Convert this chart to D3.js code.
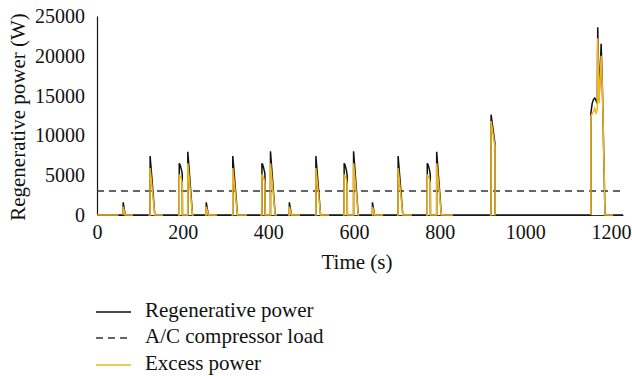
<!DOCTYPE html>
<html>
<head>
<meta charset="utf-8">
<script src="https://cdn.jsdelivr.net/npm/d3@7"></script>
<style>
  body { margin: 0; background: #fff; }
</style>
</head>
<body>
<div id="chart"></div>
<script>
// Regenerative power (W) over time (s)
const regenPower = [
    [0, 0],
    [61, 0], [61, 1600], [66, 0],
    [124, 0], [124, 7400], [135, 0],
    [192, 0], [192, 6500], [194, 6300], [197, 5700], [199, 5200], [199.5, 0],
    [212, 0], [212, 7950], [223, 0],
    [255, 0], [255, 1600], [260, 0],
    [317, 0], [317, 7400], [328, 0],
    [385, 0], [385, 6500], [387, 6300], [390, 5700], [392, 5200], [392.5, 0],
    [405, 0], [405, 8000], [416, 0],
    [449, 0], [449, 1600], [454, 0],
    [511, 0], [511, 7400], [522, 0],
    [577, 0], [577, 6500], [579, 6300], [582, 5700], [584, 5000], [584.5, 0],
    [599, 0], [599, 8000], [610, 0],
    [643, 0], [643, 1600], [648, 0],
    [703, 0], [703, 7400], [714, 0],
    [771, 0], [771, 6500], [773, 6300], [776, 5700], [778, 5100], [778.5, 0],
    [793, 0], [793, 7950], [804, 0],
    [920, 0], [920, 12600], [929, 9000], [929.5, 0],
    [1153, 0], [1153, 12800], [1156, 14000], [1159, 14500], [1162, 14700], [1165, 14400], [1168, 14000],
    [1169, 23600], [1172, 14500], [1177, 21500], [1180, 15700], [1186, 0],
    [1228, 0]
];

// Excess power (W); null marks a gap in the series
const excessPower = [
    [0, 0], [50, 0], [50, null],
    [61, 0], [61, 1050], [66, 0], [84, 0], [84, null],
    [120, 0], [124, 0], [124, 5900], [135, 0], [154, 0], [154, null],
    [189, 0], [192, 0], [192, 5000], [194, 4900], [197, 4500], [199, 4000], [199.5, 0],
    [212, 0], [212, 6500], [223, 0], [226, 0], [226, null],
    [252, 0], [255, 0], [255, 1050], [260, 0], [280, 0], [280, null],
    [314, 0], [317, 0], [317, 5900], [328, 0], [350, 0], [350, null],
    [381, 0], [385, 0], [385, 5000], [387, 4900], [390, 4500], [392, 4000], [392.5, 0],
    [405, 0], [405, 6500], [416, 0], [420, 0], [420, null],
    [446, 0], [449, 0], [449, 1050], [454, 0], [474, 0], [474, null],
    [508, 0], [511, 0], [511, 5900], [522, 0], [542, 0], [542, null],
    [574, 0], [577, 0], [577, 5000], [579, 4900], [582, 4500], [584, 3900], [584.5, 0],
    [599, 0], [599, 6500], [610, 0], [612, 0], [612, null],
    [642, 0], [643, 0], [643, 1050], [648, 0], [668, 0], [668, null],
    [700, 0], [703, 0], [703, 5900], [714, 0], [735, 0], [735, null],
    [768, 0], [771, 0], [771, 5000], [773, 4900], [776, 4500], [778, 4000], [778.5, 0],
    [793, 0], [793, 6500], [804, 0], [831, 0], [831, null],
    [917, 0], [920, 0], [920, 11800], [929, 8600], [929.5, 0], [930, 0], [930, null],
    [1153, 0], [1153, 12400], [1159, 13000], [1162, 13400], [1165, 12800], [1168, 13200],
    [1169, 22200], [1172, 14000], [1177, 20000], [1180, 15700], [1186, 0], [1205, 0]
];

const compressorLoad = 3000;
const xTicks = [0, 200, 400, 600, 800, 1000, 1200];
const yTicks = [0, 5000, 10000, 15000, 20000, 25000];
const legendLabels = ["Regenerative power", "A/C compressor load", "Excess power"];

const width = 632, height = 376;
const orange = "#f3b51c";
const serif = "Liberation Serif, serif";

const svg = d3.select("#chart").append("svg")
    .attr("width", width)
    .attr("height", height);

const xScale = d3.scaleLinear().domain([0, 1228]).range([97, 623]);
const yScale = d3.scaleLinear().domain([0, 25000]).range([215, 16]);

// Axes (no tick marks, just labels)
const xAxis = d3.axisBottom(xScale).tickValues(xTicks).tickFormat(d3.format("d"))
    .tickSize(0).tickPadding(10);
const yAxis = d3.axisLeft(yScale).tickValues(yTicks).tickFormat(d3.format("d"))
    .tickSize(0).tickPadding(12);

const xAxisG = svg.append("g")
    .attr("transform", `translate(0, ${yScale(0)})`)
    .call(xAxis);
xAxisG.select(".domain").attr("stroke", "#333").attr("stroke-width", 1.2);
xAxisG.selectAll("text")
    .style("font-family", serif)
    .style("font-size", "20px")
    .style("fill", "#111");

const yAxisG = svg.append("g")
    .attr("transform", `translate(${xScale(0)}, 0)`)
    .call(yAxis);
yAxisG.select(".domain").attr("stroke", "#111").attr("stroke-width", 1.2);
yAxisG.selectAll("text")
    .style("font-family", serif)
    .style("font-size", "20px")
    .style("fill", "#111");

// Axis titles
svg.append("text")
    .attr("x", 357)
    .attr("y", 269)
    .attr("text-anchor", "middle")
    .style("font-family", serif)
    .style("font-size", "21px")
    .style("fill", "#111")
    .text("Time (s)");

svg.append("text")
    .attr("transform", `translate(25, 117) rotate(-90)`)
    .attr("text-anchor", "middle")
    .style("font-family", serif)
    .style("font-size", "21px")
    .style("fill", "#111")
    .text("Regenerative power (W)");

// A/C compressor load (dashed)
svg.append("line")
    .attr("x1", xScale(0))
    .attr("x2", xScale(1228))
    .attr("y1", yScale(compressorLoad))
    .attr("y2", yScale(compressorLoad))
    .attr("stroke", "#333")
    .attr("stroke-width", 1.5)
    .attr("stroke-dasharray", "7,5");

const line = d3.line()
    .defined(d => d[1] !== null)
    .x(d => xScale(d[0]))
    .y(d => yScale(d[1]));

svg.append("path")
    .datum(regenPower)
    .attr("fill", "none")
    .attr("stroke", "#111")
    .attr("stroke-width", 1.5)
    .attr("d", line);

svg.append("path")
    .datum(excessPower)
    .attr("fill", "none")
    .attr("stroke", orange)
    .attr("stroke-width", 1.5)
    .attr("d", line);

// Legend
const legendStyles = [
    {stroke: "#111", dash: null},
    {stroke: "#333", dash: "7,5"},
    {stroke: orange, dash: null}
];
const legendY = [312, 338, 365];

const legend = svg.append("g");
legendLabels.forEach((label, i) => {
    legend.append("line")
        .attr("x1", 96).attr("x2", 131)
        .attr("y1", legendY[i]).attr("y2", legendY[i])
        .attr("stroke", legendStyles[i].stroke)
        .attr("stroke-width", 1.5)
        .attr("stroke-dasharray", legendStyles[i].dash);
    legend.append("text")
        .attr("x", 145)
        .attr("y", legendY[i] + 5)
        .style("font-family", serif)
        .style("font-size", "21px")
        .style("fill", "#111")
        .text(label);
});
</script>
</body>
</html>
